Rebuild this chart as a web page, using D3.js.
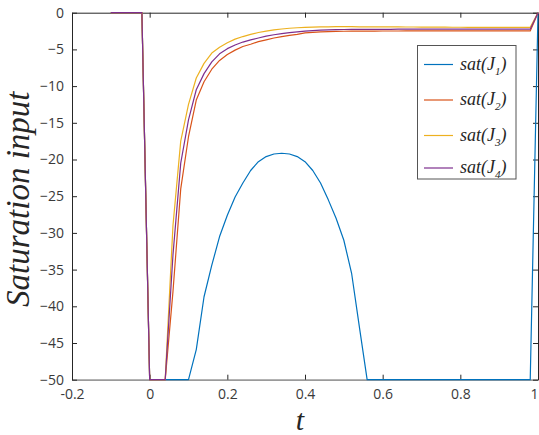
<!DOCTYPE html>
<html><head><meta charset="utf-8">
<script src="https://cdn.jsdelivr.net/npm/d3@7"></script>
<style>
body{margin:0;background:#fff;}
svg{display:block;}
</style>
</head><body>
<svg id="chart" width="539" height="435"></svg>
<script>
const tValues = [-0.1,-0.08,-0.06,-0.04,-0.02,0,0.02,0.04,0.06,0.08,0.1,0.12,0.14,0.16,0.18,0.2,0.22,0.24,0.26,0.28,0.3,0.32,0.34,0.36,0.38,0.4,0.42,0.44,0.46,0.48,0.5,0.52,0.54,0.56,0.58,0.6,0.62,0.64,0.66,0.68,0.7,0.72,0.74,0.76,0.78,0.8,0.82,0.84,0.86,0.88,0.9,0.92,0.94,0.96,0.98,1.0];

const satJ1 = [0,0,0,0,0,-50,-50,-50,-50,-50,-50,-45.9,-38.7,-34.4,-30.5,-27.6,-25.1,-23.2,-21.5,-20.3,-19.6,-19.25,-19.15,-19.25,-19.6,-20.3,-21.5,-23.2,-25.5,-28,-31,-35.5,-42.8,-50,-50,-50,-50,-50,-50,-50,-50,-50,-50,-50,-50,-50,-50,-50,-50,-50,-50,-50,-50,-50,-50,0];

const satJ2 = [0,0,0,0,0,-50,-50,-50,-38,-24,-16.9,-11.9,-9.4,-7.7,-6.5,-5.7,-5.1,-4.6,-4.3,-3.95,-3.7,-3.45,-3.25,-3.1,-2.95,-2.75,-2.68,-2.62,-2.58,-2.55,-2.53,-2.52,-2.51,-2.5,-2.5,-2.49,-2.49,-2.49,-2.48,-2.48,-2.48,-2.48,-2.48,-2.48,-2.48,-2.48,-2.48,-2.48,-2.48,-2.48,-2.48,-2.48,-2.48,-2.48,-2.48,0];

const satJ3 = [0,0,0,0,0,-50,-50,-50,-29,-17.5,-12.5,-8.9,-6.9,-5.5,-4.7,-4.1,-3.6,-3.25,-2.95,-2.7,-2.5,-2.35,-2.22,-2.12,-2.05,-2.0,-1.96,-1.93,-1.92,-1.91,-1.91,-1.91,-1.92,-1.92,-1.93,-1.93,-1.94,-1.94,-1.95,-1.95,-1.96,-1.96,-1.97,-1.97,-1.98,-1.98,-1.99,-1.99,-2.0,-2.0,-2.0,-2.0,-2.0,-2.0,-2.0,0];

const satJ4 = [0,0,0,0,0,-50,-50,-50,-33,-20.5,-14.6,-10.5,-8.3,-6.7,-5.6,-4.9,-4.4,-4.0,-3.7,-3.45,-3.2,-3.0,-2.85,-2.72,-2.6,-2.5,-2.43,-2.38,-2.34,-2.31,-2.29,-2.28,-2.27,-2.27,-2.26,-2.26,-2.26,-2.25,-2.25,-2.25,-2.25,-2.25,-2.25,-2.25,-2.25,-2.25,-2.25,-2.25,-2.25,-2.25,-2.25,-2.25,-2.25,-2.25,-2.25,0];

const seriesNames = ["1","2","3","4"];
const seriesColors = ["#0072BD","#D95319","#EDB120","#7E2F8E"];
const xTicks = [-0.2,0,0.2,0.4,0.6,0.8,1];
const yTicks = [-50,-45,-40,-35,-30,-25,-20,-15,-10,-5,0];
const xLabel = "t";
const yLabel = "Saturation input";

const allSeries = [satJ1, satJ2, satJ3, satJ4];

(function draw() {
const svg = d3.select("#chart");
const pL = 72, pR = 538, pT = 12.7, pB = 379.7;
const x = d3.scaleLinear().domain([-0.2, 1]).range([pL, pR]);
const y = d3.scaleLinear().domain([-50, 0]).range([pB, pT]);

const axisColor = "#262626";
const tickFont = "'Open Sans', 'Noto Sans', sans-serif";

const gx = svg.append("g").attr("transform", `translate(0,${pB})`)
  .call(d3.axisBottom(x).tickValues(xTicks).tickSizeInner(-5).tickSizeOuter(0).tickPadding(9)
    .tickFormat(d => String(+d.toFixed(1))));
const gxt = svg.append("g").attr("transform", `translate(0,${pT})`)
  .call(d3.axisTop(x).tickValues(xTicks).tickSizeInner(-5).tickSizeOuter(0).tickFormat(""));
const gy = svg.append("g").attr("transform", `translate(${pL},0)`)
  .call(d3.axisLeft(y).tickValues(yTicks).tickSizeInner(-5).tickSizeOuter(0).tickPadding(8));
const gyr = svg.append("g").attr("transform", `translate(${pR},0)`)
  .call(d3.axisRight(y).tickValues(yTicks).tickSizeInner(-5).tickSizeOuter(0).tickFormat(""));

[gx, gxt, gy, gyr].forEach(g => {
  g.selectAll("path.domain").attr("stroke", axisColor).attr("stroke-width", 1);
  g.selectAll(".tick line").attr("stroke", axisColor).attr("stroke-width", 1);
  g.selectAll(".tick text").attr("fill", "#3a3a3a")
    .style("font-family", tickFont).style("font-size", "14px");
});
gx.select("path.domain").attr("stroke", "#9a9a9a").attr("stroke-width", 1.8);
// keep the last label inside the picture
gx.selectAll(".tick text").filter(d => d === 1).attr("text-anchor", "end").attr("dx", 0);

const line = d3.line().x((d, i) => x(tValues[i])).y(d => y(d));
allSeries.forEach((s, k) => {
  svg.append("path").datum(s)
    .attr("fill", "none")
    .attr("stroke", seriesColors[k])
    .attr("stroke-width", 1.2)
    .attr("stroke-linejoin", "round")
    .attr("d", line);
});

svg.append("text")
  .attr("x", 300).attr("y", 430)
  .attr("text-anchor", "middle")
  .style("font-family", "'Liberation Serif', 'Times New Roman', serif")
  .style("font-style", "italic")
  .style("font-size", "30px")
  .attr("fill", "#262626")
  .text(xLabel);

svg.append("text")
  .attr("transform", `translate(29,${(pT + pB) / 2 + 3}) rotate(-90)`)
  .attr("text-anchor", "middle")
  .style("font-family", "'Liberation Serif', 'Times New Roman', serif")
  .style("font-style", "italic")
  .style("font-size", "33px")
  .attr("fill", "#262626")
  .text(yLabel);

const lg = svg.append("g");
lg.append("rect")
  .attr("x", 417.5).attr("y", 45.5).attr("width", 98.5).attr("height", 133.5)
  .attr("fill", "#fff").attr("stroke", "#555").attr("stroke-width", 1);
const entryY = [64.5, 100, 135.5, 168];
seriesNames.forEach((n, k) => {
  lg.append("line")
    .attr("x1", 424).attr("x2", 453)
    .attr("y1", entryY[k]).attr("y2", entryY[k])
    .attr("stroke", seriesColors[k]).attr("stroke-width", 1.2);
  const t = lg.append("text")
    .attr("x", 460).attr("y", entryY[k] + 5)
    .style("font-family", "'Liberation Serif', 'Times New Roman', serif")
    .style("font-style", "italic")
    .style("font-size", "18px")
    .attr("fill", "#262626");
  t.append("tspan").text("sat(J");
  t.append("tspan").attr("dy", 5).style("font-size", "11px").text(n);
  t.append("tspan").attr("dy", -5).text(")");
});
})();
</script>
</body></html>
